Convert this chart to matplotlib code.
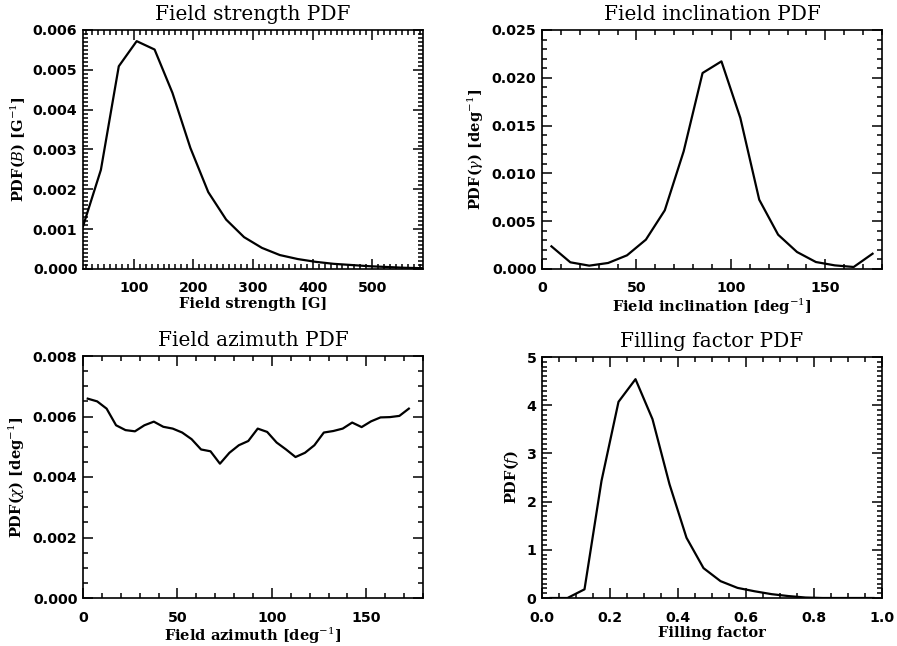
import numpy as np
import matplotlib
matplotlib.use("Agg")
import matplotlib.pyplot as plt
from matplotlib.ticker import MultipleLocator, FormatStrFormatter
from matplotlib.font_manager import FontProperties

# field strength PDF
b_field = [15, 45, 75, 105, 135, 165, 195, 225, 255, 285, 315, 345, 375,
           405, 435, 465, 495, 525, 555, 585]
pdf_b = [0.00107, 0.00249, 0.00509, 0.00572, 0.00551, 0.00442, 0.00304,
         0.00193, 0.00124, 0.00080, 0.00053, 0.00035, 0.00025, 0.00018,
         0.00013, 0.00010, 0.00007, 0.00005, 0.00003, 0.00002]

# field inclination PDF
gamma = [5, 15, 25, 35, 45, 55, 65, 75, 85, 95, 105, 115, 125, 135, 145,
         155, 165, 175]
pdf_gamma = [0.00237, 0.00070, 0.00035, 0.00063, 0.00143, 0.00307, 0.00614,
             0.01231, 0.02050, 0.02172, 0.01580, 0.00725, 0.00359, 0.00178,
             0.00073, 0.00038, 0.00021, 0.00160]

# field azimuth PDF
chi = [2.5, 7.5, 12.5, 17.5, 22.5, 27.5, 32.5, 37.5, 42.5, 47.5, 52.5, 57.5,
       62.5, 67.5, 72.5, 77.5, 82.5, 87.5, 92.5, 97.5, 102.5, 107.5, 112.5,
       117.5, 122.5, 127.5, 132.5, 137.5, 142.5, 147.5, 152.5, 157.5, 162.5,
       167.5, 172.5]
pdf_chi = [0.00659, 0.00650, 0.00626, 0.00571, 0.00555, 0.00551, 0.00571,
           0.00583, 0.00566, 0.00560, 0.00547, 0.00525, 0.00491, 0.00485,
           0.00444, 0.00480, 0.00505, 0.00519, 0.00560, 0.00549, 0.00514,
           0.00491, 0.00466, 0.00480, 0.00505, 0.00547, 0.00552, 0.00560,
           0.00580, 0.00565, 0.00584, 0.00597, 0.00598, 0.00602, 0.00626]

# filling factor PDF
fill = [0.025, 0.075, 0.125, 0.175, 0.225, 0.275, 0.325, 0.375, 0.425, 0.475,
        0.525, 0.575, 0.625, 0.675, 0.725, 0.775, 0.825, 0.875, 0.925, 0.975]
pdf_fill = [0.0, 0.0, 0.18, 2.43, 4.07, 4.54, 3.71, 2.36, 1.25, 0.62, 0.35,
            0.21, 0.14, 0.08, 0.04, 0.01, 0.0, 0.0, 0.0, 0.0]

W, H = 897, 646
fig = plt.figure(figsize=(W / 100, H / 100), dpi=100)
plt.rcParams["mathtext.fontset"] = "dejavuserif"

serif = "DejaVu Serif"
tickfont = FontProperties(family="DejaVu Sans", weight="bold", size=10.2)
lw = 1.6


def make_axes(l, t, r, b):
    return fig.add_axes([l / W, 1 - b / H, (r - l) / W, (b - t) / H])


def style(ax, xmaj, xmin, ymaj, ymin, xfmt, yfmt):
    ax.xaxis.set_major_locator(MultipleLocator(xmaj))
    ax.xaxis.set_minor_locator(MultipleLocator(xmin))
    ax.yaxis.set_major_locator(MultipleLocator(ymaj))
    ax.yaxis.set_minor_locator(MultipleLocator(ymin))
    if xfmt:
        ax.xaxis.set_major_formatter(FormatStrFormatter(xfmt))
    ax.yaxis.set_major_formatter(FormatStrFormatter(yfmt))
    ax.tick_params(which="both", direction="in", top=True, right=True,
                   width=1.1, color="black")
    ax.tick_params(which="major", length=7)
    ax.tick_params(which="minor", length=3.5)
    ax.tick_params(axis="x", pad=9)
    ax.tick_params(axis="y", pad=4)
    for s in ax.spines.values():
        s.set_linewidth(1.2)
    for lab in ax.get_xticklabels() + ax.get_yticklabels():
        lab.set_fontproperties(tickfont)


def labels(ax, title, xlab, ylab):
    ax.set_title(title, family=serif, fontsize=14.5, pad=7)
    ax.set_xlabel(xlab, family=serif, fontsize=10.5, weight="bold", labelpad=1)
    ax.set_ylabel(ylab, family=serif, fontsize=10.5, weight="bold")


# panel 1
ax1 = make_axes(83, 30, 423, 269)
ax1.plot(b_field, pdf_b, color="black", lw=lw)
ax1.set_xlim(15, 585)
ax1.set_ylim(0, 0.006)
style(ax1, 100, 10, 0.001, 0.0001, None, "%.3f")
labels(ax1, "Field strength PDF", "Field strength [G]", r"PDF($B$) [G$^{-1}$]")

# panel 2
ax2 = make_axes(542, 30, 882, 269)
ax2.plot(gamma, pdf_gamma, color="black", lw=lw)
ax2.set_xlim(0, 180)
ax2.set_ylim(0, 0.025)
style(ax2, 50, 10, 0.005, 0.001, None, "%.3f")
labels(ax2, "Field inclination PDF", r"Field inclination [deg$^{-1}$]",
       r"PDF($\gamma$) [deg$^{-1}$]")

# panel 3
ax3 = make_axes(83, 356, 423, 598)
ax3.plot(chi, pdf_chi, color="black", lw=lw)
ax3.set_xlim(0, 180)
ax3.set_ylim(0, 0.008)
style(ax3, 50, 10, 0.002, 0.0005, None, "%.3f")
labels(ax3, "Field azimuth PDF", r"Field azimuth [deg$^{-1}$]",
       r"PDF($\chi$) [deg$^{-1}$]")

# panel 4
ax4 = make_axes(542, 357, 882, 598)
ax4.plot(fill, pdf_fill, color="black", lw=lw)
ax4.set_xlim(0, 1)
ax4.set_ylim(0, 5)
style(ax4, 0.2, 0.05, 1, 0.1, "%.1f", "%d")
labels(ax4, "Filling factor PDF", "Filling factor", r"PDF($f$)")

fig.savefig("out.png", dpi=100)
